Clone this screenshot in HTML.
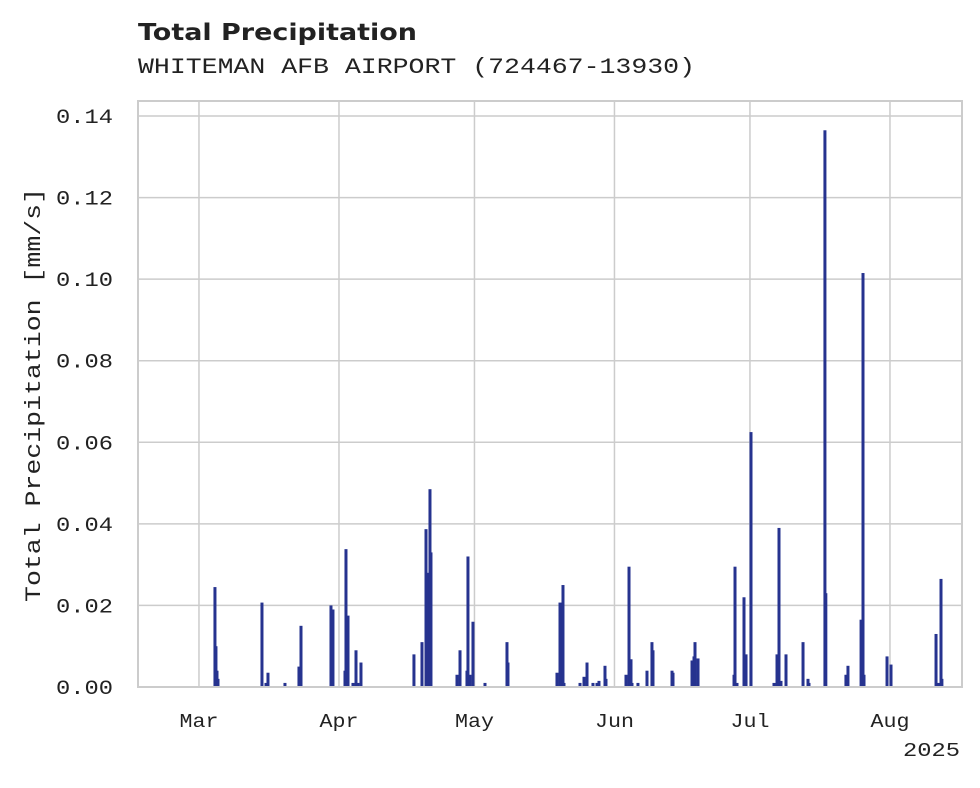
<!DOCTYPE html>
<html><head><meta charset="utf-8"><style>
body{margin:0;background:#fff;}
svg text{font-family:"Liberation Mono","DejaVu Sans Mono",monospace;fill:#222;}
</style></head><body>
<svg id="c" width="980" height="783">
<text x="138" y="40" textLength="279" lengthAdjust="spacingAndGlyphs" style="font-family:'DejaVu Sans','Liberation Sans',sans-serif;font-weight:bold;font-size:23px">Total Precipitation</text>
<text x="138" y="73" font-size="22" textLength="557" lengthAdjust="spacingAndGlyphs">WHITEMAN AFB AIRPORT (724467-13930)</text>
<g id="grid"></g><g id="bars"></g><g id="axes"></g>
<rect x="138" y="101" width="824" height="586" fill="none" stroke="#ccc" stroke-width="2"/>
<text transform="translate(40,395) rotate(-90)" text-anchor="middle" font-size="22" textLength="414" lengthAdjust="spacingAndGlyphs">Total Precipitation [mm/s]</text>
<text x="960" y="756" text-anchor="end" font-size="19" textLength="57" lengthAdjust="spacingAndGlyphs">2025</text>
</svg>
<script>
const days=[3.54,3.76,3.99,4.21,13.95,14.84,15.28,19.04,22.14,22.59,29.23,29.67,32.33,32.55,33.0,34.1,34.77,35.2,35.87,47.6,49.38,50.27,50.71,51.15,51.37,57.13,57.8,59.34,59.56,60.0,60.67,63.33,68.2,68.42,79.27,79.94,80.6,80.82,84.37,85.25,85.92,87.24,88.13,88.57,89.9,90.12,94.55,95.22,95.66,95.88,97.2,99.2,100.3,100.53,104.74,104.96,109.17,109.61,109.83,110.5,118.47,118.69,119.13,120.68,121.13,122.23,127.32,127.99,128.43,128.87,129.98,133.75,134.85,135.07,138.6,138.8,143.25,143.7,146.6,147.03,147.25,152.35,153.23,163.2,163.65,164.3,164.5];
const vals=[0.0245,0.010,0.004,0.002,0.0207,0.001,0.0035,0.001,0.005,0.015,0.020,0.019,0.004,0.0338,0.0175,0.001,0.009,0.001,0.006,0.008,0.011,0.0387,0.028,0.0485,0.033,0.003,0.009,0.004,0.032,0.003,0.016,0.001,0.011,0.006,0.0035,0.0207,0.025,0.001,0.001,0.0025,0.006,0.001,0.001,0.0015,0.0052,0.002,0.003,0.0295,0.0068,0.001,0.001,0.004,0.011,0.009,0.004,0.0035,0.0065,0.0075,0.011,0.007,0.003,0.0295,0.001,0.022,0.008,0.0625,0.001,0.008,0.039,0.0015,0.008,0.011,0.002,0.001,0.1365,0.023,0.003,0.0052,0.0165,0.1015,0.003,0.0075,0.0055,0.013,0.001,0.0265,0.002];
const yTicks=[0,0.02,0.04,0.06,0.08,0.10,0.12,0.14];
const monthLabels=["Mar","Apr","May","Jun","Jul","Aug"];
const monthDays=[0,31,61,92,122,153];
const NS="http://www.w3.org/2000/svg";
const X0=138,X1=962,Y0=687,Y1=116;
const dMin=-13.5,dMax=168.95;
const xs=d=>X0+(d-dMin)/(dMax-dMin)*(X1-X0);
const ys=v=>Y0-v/0.14*(Y0-Y1);
function mk(t,a,p){const e=document.createElementNS(NS,t);for(const k in a)e.setAttribute(k,a[k]);p.appendChild(e);return e;}
const grid=document.getElementById('grid'),bars=document.getElementById('bars'),axes=document.getElementById('axes');
yTicks.forEach(v=>{const y=ys(v);
 const l=mk('line',{x1:X0,x2:X1,y1:y,y2:y,stroke:'#ccc','stroke-width':1.5},grid);
 
 
 const t=mk('text',{x:113,y:y+7,'text-anchor':'end','font-size':20,textLength:57,lengthAdjust:'spacingAndGlyphs'},axes);t.textContent=v.toFixed(2);
 
 
});
monthDays.forEach((d,i)=>{const x=xs(d);
 const l=mk('line',{x1:x,x2:x,y1:101,y2:Y0,stroke:'#ccc','stroke-width':1.5},grid);
 
 
 const t=mk('text',{x:x,y:727,'text-anchor':'middle','font-size':19,textLength:39,lengthAdjust:'spacingAndGlyphs'},axes);t.textContent=monthLabels[i];
 
 
});
days.forEach((d,i)=>{const x=xs(d),y=ys(vals[i]);
 const r=mk('rect',{x:x-1.5,y:y,width:3,height:Y0-y,fill:'#26338f'},bars);
 
 
});
</script>
</body></html>
